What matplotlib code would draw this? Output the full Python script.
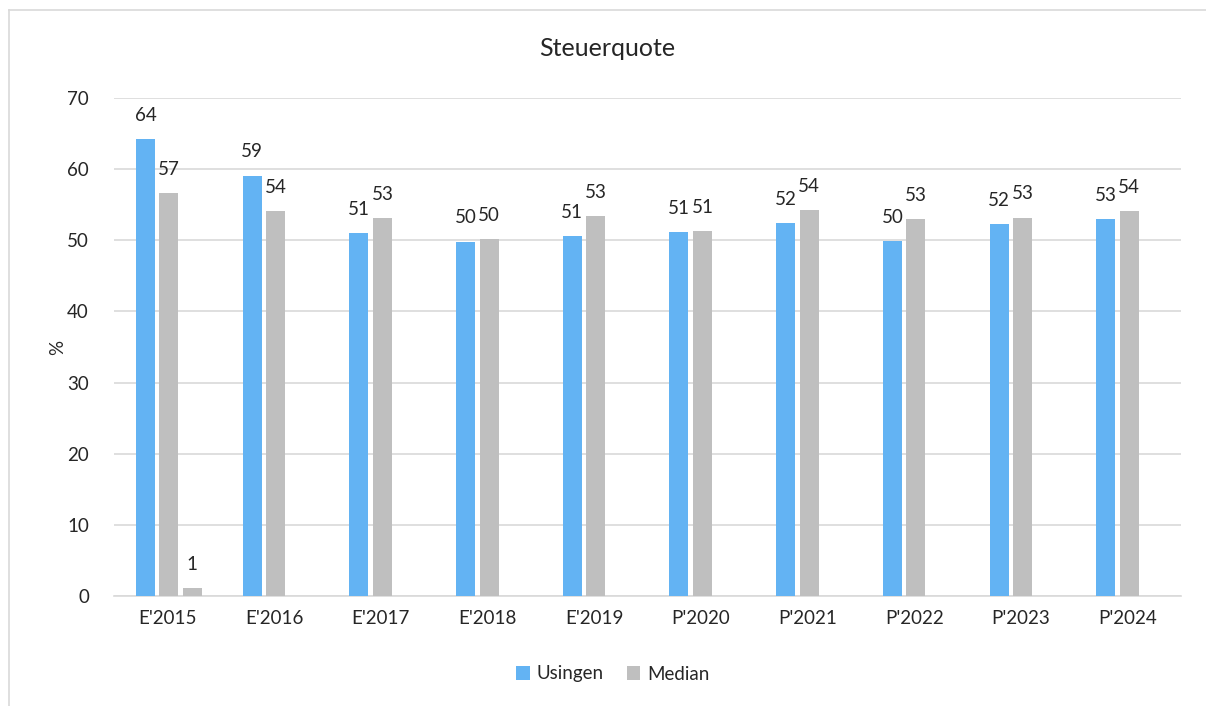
import matplotlib
matplotlib.use("Agg")
import matplotlib.pyplot as plt
import numpy as np
from matplotlib.lines import Line2D

categories = ["E'2015", "E'2016", "E'2017", "E'2018", "E'2019",
              "P'2020", "P'2021", "P'2022", "P'2023", "P'2024"]
usingen = [64.2, 59.1, 51.0, 49.8, 50.6, 51.1, 52.4, 49.9, 52.3, 53.0]
median = [56.6, 54.1, 53.1, 50.2, 53.4, 51.3, 54.2, 53.0, 53.2, 54.1]
extra = [1.1, None, None, None, None, None, None, None, None, None]
yticks = [0, 10, 20, 30, 40, 50, 60, 70]

plt.rcParams['font.family'] = ['Lato', 'DejaVu Sans']

fig = plt.figure(figsize=(12.06, 7.06), dpi=100)
bx, by = 8.5/1206, 1 - 9.5/706
fig.add_artist(Line2D([bx, bx], [0, by], transform=fig.transFigure,
                      color='#D9D9D9', linewidth=1.2))
fig.add_artist(Line2D([bx, 1], [by, by], transform=fig.transFigure,
                      color='#D9D9D9', linewidth=1.2))
ax = fig.add_axes([114/1206, 1 - 596/706, (1181 - 114)/1206, (596 - 98)/706])

x = np.arange(len(categories))
w = 0.178
blue = '#63B3F3'
grey = '#BFBFBF'
offs = [-0.205, 0.015, 0.235]

b1 = ax.bar(x + offs[0], usingen, w, color=blue, label='Usingen', zorder=3)
b2 = ax.bar(x + offs[1], median, w, color=grey, label='Median', zorder=3)
ex_x = [xi + offs[2] for xi, v in zip(x, extra) if v is not None]
ex_v = [v for v in extra if v is not None]
b3 = ax.bar(ex_x, ex_v, w, color=grey, zorder=3)

for bars in (b1, b2, b3):
    for r in bars:
        h = r.get_height()
        ax.annotate(f"{h:.0f}", (r.get_x() + r.get_width()/2, h),
                    xytext=(0, 11), textcoords='offset points',
                    ha='center', va='bottom', fontsize=13.5, color='#262626')

ax.set_xlim(-0.5, len(categories) - 0.5)
ax.set_ylim(0, 70)
ax.set_yticks(yticks)
ax.set_xticks(x)
ax.set_xticklabels(categories)
ax.tick_params(axis='both', length=0, labelsize=13.5, colors='#262626')
ax.tick_params(axis='y', pad=18)
ax.tick_params(axis='x', pad=10)
ax.grid(axis='y', color='#D9D9D9', linewidth=1.2, zorder=0)
for s in ['top', 'right', 'left']:
    ax.spines[s].set_visible(False)
ax.spines['bottom'].set_color('#D9D9D9')
ax.spines['bottom'].set_linewidth(1.2)
ax.set_ylabel('%', fontsize=13.5, color='#262626', labelpad=1)

fig.text(607/1206, 1 - 48/706, 'Steuerquote', ha='center', va='center',
         fontsize=18, color='#262626')

fig.legend(handles=[b1, b2], labels=['Usingen', 'Median'], loc='center',
           bbox_to_anchor=(613/1206, 1 - 674/706), ncol=2, frameon=False,
           fontsize=13.5, handlelength=0.7, handleheight=0.7, columnspacing=1.2,
           handletextpad=0.4, labelcolor='#262626')

fig.savefig('out.png', dpi=100)
